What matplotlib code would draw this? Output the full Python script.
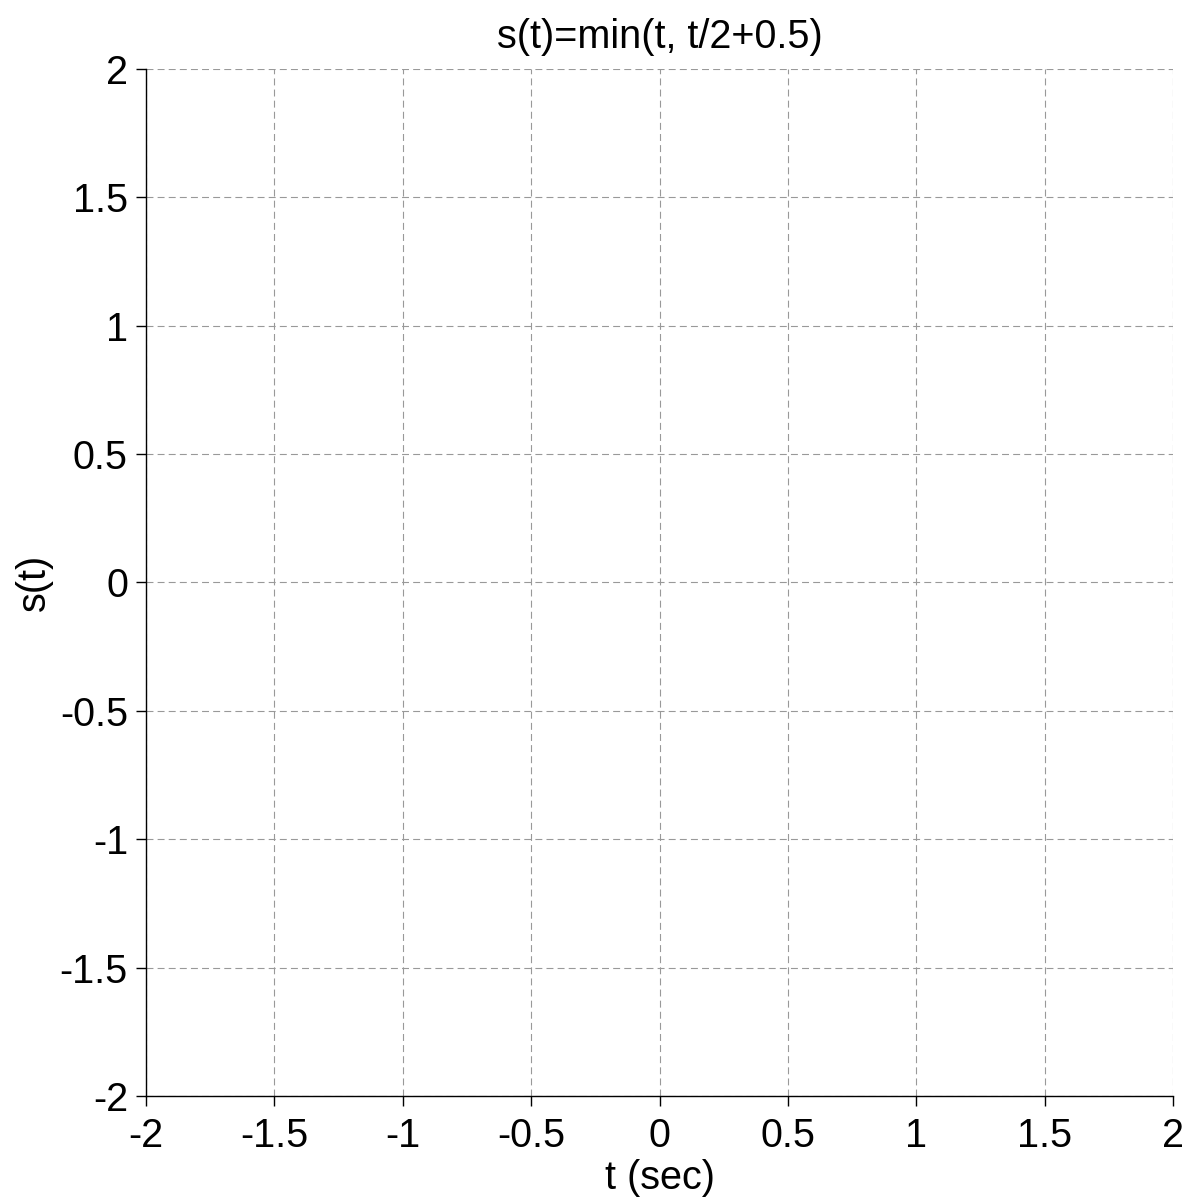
import matplotlib
matplotlib.use("Agg")
import matplotlib.pyplot as plt

plt.rcParams['font.family'] = ['Liberation Sans', 'DejaVu Sans']
plt.rcParams['lines.scale_dashes'] = False

# Axis ranges and tick values
x_ticks = [-2, -1.5, -1, -0.5, 0, 0.5, 1, 1.5, 2]
y_ticks = [-2, -1.5, -1, -0.5, 0, 0.5, 1, 1.5, 2]
x_tick_labels = ['-2', '-1.5', '-1', '-0.5', '0', '0.5', '1', '1.5', '2']
y_tick_labels = ['-2', '-1.5', '-1', '-0.5', '0', '0.5', '1', '1.5', '2']

title = 's(t)=min(t, t/2+0.5)'
x_label = 't (sec)'
y_label = 's(t)'

FS = 28.5

fig = plt.figure(figsize=(11.88, 12.02), dpi=100)
ax = fig.add_axes([0.1229, 0.0882, 0.8645, 0.8544])

ax.set_xlim(x_ticks[0], x_ticks[-1])
ax.set_ylim(y_ticks[0], y_ticks[-1])
ax.set_xticks(x_ticks)
ax.set_yticks(y_ticks)
ax.set_xticklabels(x_tick_labels)
ax.set_yticklabels(y_tick_labels)

ax.grid(True, color='#999999', linestyle=(0, (5, 3)), linewidth=0.8)
ax.set_axisbelow(True)

for side in ('top', 'right'):
    ax.spines[side].set_visible(False)
for side in ('left', 'bottom'):
    ax.spines[side].set_linewidth(1.0)
    ax.spines[side].set_color('black')

ax.tick_params(direction='out', length=7, width=1.0, labelsize=FS)
ax.tick_params(axis='x', pad=8)
ax.tick_params(axis='y', pad=6)

ax.set_title(title, fontsize=FS, pad=15)
ax.set_xlabel(x_label, fontsize=FS, labelpad=3)
ax.set_ylabel(y_label, fontsize=FS, labelpad=5)

fig.savefig('out.png', dpi=100, facecolor='white')
